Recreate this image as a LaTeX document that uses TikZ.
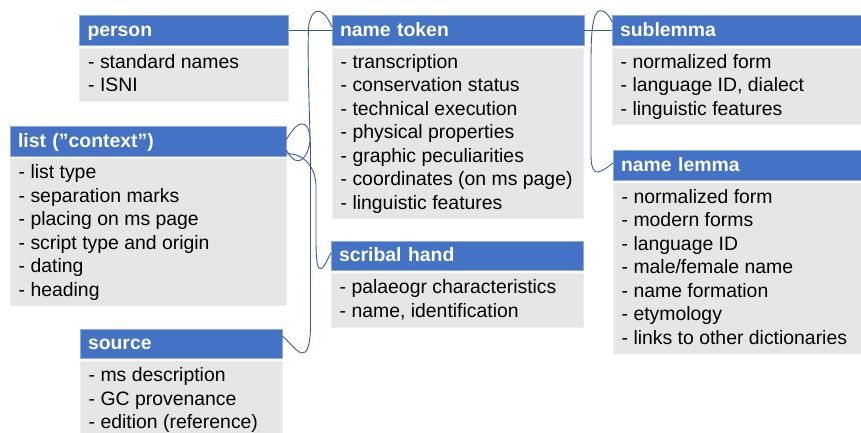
\documentclass[tikz,border=0pt]{standalone}
\usepackage{fontspec}
\setmainfont{Liberation Sans}
\definecolor{hdrblue}{HTML}{4472C4}
\definecolor{hdrline}{HTML}{8EA9DB}
\definecolor{bodygrey}{HTML}{E6E6E6}
\definecolor{bodyline}{HTML}{EEEEEE}
\definecolor{linkblue}{RGB}{56,90,160}
\tikzset{
  hdr/.style={draw=hdrline, fill=hdrblue, line width=0.6pt, anchor=north west,
    inner xsep=8pt, inner ysep=0pt, outer sep=0pt, align=left,
    text=white, font=\bfseries\fontsize{19.4}{23}\selectfont,
    text height=15pt, text depth=3pt},
  bodybox/.style={draw=bodyline, fill=bodygrey, line width=0.5pt, anchor=north west,
    inner sep=0pt, outer sep=0pt},
  items/.style={anchor=base west, inner sep=0pt, font=\fontsize{19.4}{23.5}\selectfont},
  link/.style={draw=linkblue, line width=0.9pt}
}
\newcommand{\itemlist}[1]{\parbox[t]{240pt}{#1}}
\begin{document}
\begin{tikzpicture}[x=1pt, y=-1pt]
\useasboundingbox (0,0) rectangle (861,432);
\clip (0,0) rectangle (861,432);

% person
\node[hdr, text width=193pt, minimum height=30pt] (personH) at (79.5,15) {person};
\node[bodybox, minimum width=209pt, minimum height=53.2pt] (personB) at (79.5,48.3) {};
\node[items] at ([xshift=8.5pt, yshift=-20pt]personB.north west)
  {\itemlist{- standard names\\- ISNI}};

% list
\node[hdr, text width=260pt, minimum height=30pt] (listH) at (10,126) {list (”context”)};
\node[bodybox, minimum width=276pt, minimum height=147.2pt] (listB) at (10,158.5) {};
\node[items] at ([xshift=8.5pt, yshift=-20pt]listB.north west)
  {\itemlist{- list type\\- separation marks\\- placing on ms page\\- script type and origin\\- dating\\- heading}};

% source
\node[hdr, text width=186pt, minimum height=29.7pt] (srcH) at (80,329) {source};
\node[bodybox, minimum width=202pt, minimum height=76.7pt] (srcB) at (80,361.7) {};
\node[items] at ([xshift=8.5pt, yshift=-20pt]srcB.north west)
  {\itemlist{- ms description\\- GC provenance\\- edition (reference)}};

% name token
\node[hdr, text width=236pt, minimum height=30pt] (ntH) at (332,15) {name token};
\node[bodybox, minimum width=251pt, minimum height=170.7pt] (ntB) at (332,48) {};
\node[items] at ([xshift=8.5pt, yshift=-20pt]ntB.north west)
  {\itemlist{- transcription\\- conservation status\\- technical execution\\- physical properties\\- graphic peculiarities\\- coordinates (on ms page)\\- linguistic features}};

% scribal hand
\node[hdr, text width=236pt, minimum height=29.5pt] (sclH) at (331,241) {scribal hand};
\node[bodybox, minimum width=252pt, minimum height=53.2pt] (sclB) at (331,273.7) {};
\node[items] at ([xshift=8.5pt, yshift=-20pt]sclB.north west)
  {\itemlist{- palaeogr characteristics\\- name, identification}};

% sublemma
\node[hdr, text width=244pt, minimum height=30pt] (subH) at (612,15) {sublemma};
\node[bodybox, minimum width=260pt, minimum height=76.7pt] (subB) at (612,48) {};
\node[items] at ([xshift=8.5pt, yshift=-20pt]subB.north west)
  {\itemlist{- normalized form\\- language ID, dialect\\- linguistic features}};

% name lemma
\node[hdr, text width=244pt, minimum height=30pt] (nlH) at (613,150) {name lemma};
\node[bodybox, minimum width=260pt, minimum height=170.7pt] (nlB) at (613,183) {};
\node[items] at ([xshift=8.5pt, yshift=-20pt]nlB.north west)
  {\itemlist{- normalized form\\- modern forms\\- language ID\\- male/female name\\- name formation\\- etymology\\- links to other dictionaries}};

% straight links
\draw[link] (personH.east) -- (ntH.west);
\draw[link] (ntH.east) -- (subH.west);

% name token -- list
\draw[link] ([yshift=3pt]ntH.west) .. controls (324,8) and (313,5) .. (309,24)
  .. controls (307,40) and (309,100) .. (310,135)
  .. controls (311,152) and (302,164) .. (295,160)
  .. controls (291,158) and (289,154) .. ([yshift=-9pt]listH.east);

% source -- list
\draw[link] ([yshift=1pt]listH.east) .. controls (291,132) and (297,123) .. (303,124)
  .. controls (309,125) and (310.5,135) .. (310.5,150) -- (310.5,325)
  .. controls (310.5,345) and (307,354) .. (302,353)
  .. controls (296,352) and (288,340) .. ([yshift=8pt]srcH.east);

% scribal hand -- list
\draw[link] ([yshift=3pt]sclH.west) .. controls (326,262) and (322,272) .. (319,268)
  .. controls (316,264) and (316,250) .. (316,235) -- (316,185)
  .. controls (315,162) and (298,152) .. ([yshift=-13pt]listH.east);

% sublemma -- name lemma
\draw[link] ([yshift=8pt]subH.west) .. controls (607,10) and (599,8) .. (596,14)
  .. controls (592,20) and (591,40) .. (591,60) -- (591,155)
  .. controls (591,168) and (594,173) .. (598,172)
  .. controls (603,171) and (609,166) .. ([yshift=2pt]nlH.west);
\end{tikzpicture}
\end{document}
